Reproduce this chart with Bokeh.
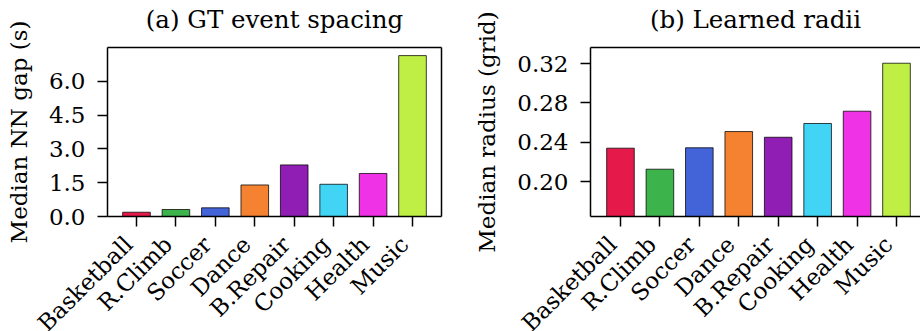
import math
from bokeh.plotting import figure
from bokeh.layouts import row
from bokeh.models import (FixedTicker, Range1d, ColumnDataSource, PrintfTickFormatter,
                          LabelSet, LinearAxis)
from bokeh.core.properties import value
from bokeh.embed import file_html
from bokeh.resources import INLINE

categories = ["Basketball", "R.Climb", "Soccer", "Dance", "B.Repair", "Cooking", "Health", "Music"]
gap_values = [0.19, 0.31, 0.385, 1.40, 2.29, 1.43, 1.91, 7.14]
radius_values = [0.2339, 0.2125, 0.2343, 0.2508, 0.2450, 0.2590, 0.2715, 0.3203]
colors = ["#e6194b", "#3cb44b", "#4363d8", "#f58231", "#911eb4", "#42d4f4", "#f032e6", "#bfef45"]
gap_ticks = [0.0, 1.5, 3.0, 4.5, 6.0]
radius_ticks = [0.20, 0.24, 0.28, 0.32]
gap_ylim = (0.0, 7.5)
radius_ylim = (0.1644, 0.3363)

FONT = "DejaVu Serif"
FS = "23px"
TITLE_FS = "24.5px"
H = 331
TOP = 47          # plot-area top (px)
AXIS_Y = 216      # x-axis line (px)
PX_PER_BAR = 334 / 8.47


def style_axis(ax):
    ax.major_tick_out = 10
    ax.major_tick_in = 0
    ax.major_tick_line_width = 1.5
    ax.major_tick_line_color = "black"
    ax.minor_tick_line_color = None
    ax.minor_tick_out = 0
    ax.minor_tick_in = 0
    ax.axis_line_width = 1.5
    ax.axis_line_color = "black"


def bare_axis(**kw):
    ax = LinearAxis(ticker=FixedTicker(ticks=[]), major_label_text_font_size="0px",
                    major_label_standoff=0, **kw)
    style_axis(ax)
    ax.major_tick_out = 0
    return ax


def make(values, ticks, fmt, ylabel, title, ylim, width, area_left, xlo, xhi, right_border):
    ymin, ymax = ylim
    yscale = (ymax - ymin) / (AXIS_Y - TOP)
    ystart = ymax - yscale * (H - TOP)
    yend = ymax + yscale * TOP
    xstart = xlo - area_left / PX_PER_BAR
    xend = xstart + width / PX_PER_BAR
    xs = list(range(len(categories)))
    src = ColumnDataSource(dict(x=xs, top=values, color=colors, name=categories))
    p = figure(width=width, height=H, x_range=Range1d(xstart, xend),
               y_range=Range1d(ystart, yend), output_backend="svg", toolbar_location=None,
               min_border_left=0, min_border_right=0, min_border_top=0,
               min_border_bottom=0)
    p.vbar(x="x", top="top", bottom=ymin, width=0.7, fill_color="color",
           line_color="black", line_alpha=0.75, line_width=1, source=src)
    p.xgrid.visible = False
    p.ygrid.visible = False
    p.outline_line_color = None
    p.background_fill_color = "white"
    p.border_fill_color = "white"

    # bottom axis at the bottom of the plot area
    xa = p.xaxis[0]
    xa.ticker = FixedTicker(ticks=xs)
    xa.major_label_text_font_size = "0px"
    xa.major_label_standoff = 0
    xa.fixed_location = ymin
    xa.bounds = (xlo, xhi)
    style_axis(xa)

    labels = LabelSet(x="x", y=ymin, x_offset=-8, y_offset=-24, text="name", source=src,
                      angle=math.pi / 4, text_align="right", text_baseline="middle",
                      text_font=value(FONT), text_font_size=value(FS), text_color="black")
    p.add_layout(labels)

    # left axis at the left of the plot area
    ya = p.yaxis[0]
    ya.ticker = FixedTicker(ticks=ticks)
    ya.formatter = PrintfTickFormatter(format=fmt)
    ya.fixed_location = xlo
    ya.bounds = (ymin, ymax)
    ya.axis_label = ylabel
    ya.axis_label_text_font = FONT
    ya.axis_label_text_font_size = FS
    ya.axis_label_text_font_style = "normal"
    ya.axis_label_text_color = "black"
    ya.axis_label_standoff = 14
    ya.major_label_text_font = FONT
    ya.major_label_text_font_size = FS
    ya.major_label_text_color = "black"
    ya.major_label_standoff = 12
    style_axis(ya)

    # top border carrying the panel title
    top = bare_axis(bounds=(xlo, xhi), fixed_location=ymax, axis_label=title,
                    axis_label_text_font=FONT, axis_label_text_font_size=TITLE_FS,
                    axis_label_text_font_style="normal", axis_label_text_color="black",
                    axis_label_standoff=14)
    p.add_layout(top, "above")

    if right_border:
        p.add_layout(bare_axis(bounds=(ymin, ymax), fixed_location=xhi), "right")
    return p


p1 = make(gap_values, gap_ticks, "%.1f", "Median NN gap (s)", "(a) GT event spacing",
          gap_ylim, 451, 107, -0.735, 7.735, True)
p2 = make(radius_values, radius_ticks, "%.2f", "Median radius (grid)", "(b) Learned radii",
          radius_ylim, 469, 139, -0.76, 7.71, False)

p = row(p1, p2)
open("out.html", "w").write(file_html(p, INLINE))
